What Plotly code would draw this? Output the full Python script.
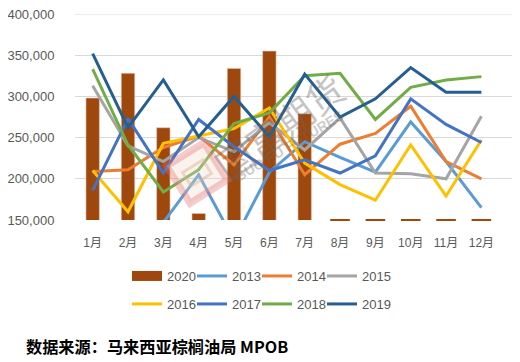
import math
import plotly.graph_objects as go

months = ["1月", "2月", "3月", "4月", "5月", "6月", "7月", "8月", "9月", "10月", "11月", "12月"]

v2020 = [298000, 328000, 262000, 158000, 334000, 355000, 279000, 0, 0, 0, 0, 0]
v2013 = [130000, 120000, 147000, 205000, 125000, 208000, 245000, 226000, 208000, 269000, 221000, 165000]
v2014 = [209000, 211000, 238000, 252000, 217000, 275000, 205000, 242000, 255000, 288000, 221000, 200000]
v2015 = [313000, 240000, 221000, 250000, 233000, 268000, 235000, 274000, 207000, 206000, 200000, 276000]
v2016 = [210000, 160000, 243000, 252000, 261000, 286000, 219000, 193000, 174000, 241000, 179000, 247000]
v2017 = [186000, 273000, 207000, 272000, 239000, 210000, 223000, 207000, 228000, 297000, 266000, 244000]
v2018 = [333000, 241000, 184000, 211000, 267000, 280000, 325000, 328000, 272000, 311000, 320000, 324000]
v2019 = [352000, 262000, 320000, 251000, 300000, 251000, 327000, 275000, 297000, 335000, 305000, 305000]

y_ticks = [150000, 200000, 250000, 300000, 350000, 400000]
y_min, y_max = 150000, 400000

line_series = [
    ("2013", v2013, "#5B9BD5", "legend"),
    ("2014", v2014, "#ED7D31", "legend"),
    ("2015", v2015, "#A5A5A5", "legend"),
    ("2016", v2016, "#FFC000", "legend2"),
    ("2017", v2017, "#4472C4", "legend2"),
    ("2018", v2018, "#70AD47", "legend2"),
    ("2019", v2019, "#255E91", "legend2"),
]
bar_color = "#9E480E"
grid_color = "#D9D9D9"
font_main = "Liberation Sans, Arial, Noto Sans CJK SC"
txt_color = "#595959"

# the page body has an 8px margin, so the figure is drawn 8px in from the window edge
OFF = 8
W, H = 520 - OFF, 362 - OFF
M_L, M_R, M_T, M_B = 75 - OFF, 520 - 512, 14 - OFF, 362 - 220
plot_w = W - M_L - M_R
plot_h = H - M_T - M_B


def px_x(x):
    # window pixel -> paper x
    return (x - OFF - M_L) / plot_w


def px_y(y):
    # window pixel -> paper y
    return (H - M_B - (y - OFF)) / plot_h


def rot_rect_path(cx, cy, w, h, ang_deg):
    a = math.radians(ang_deg)
    pts = []
    for dx, dy in [(-w / 2, -h / 2), (w / 2, -h / 2), (w / 2, h / 2), (-w / 2, h / 2)]:
        x = cx + dx * math.cos(a) - dy * math.sin(a)
        y = cy + dx * math.sin(a) + dy * math.cos(a)
        pts.append((px_x(x), px_y(y)))
    return "M " + " L ".join(f"{x:.4f},{y:.4f}" for x, y in pts) + " Z"


fig = go.Figure()

fig.add_trace(go.Bar(
    x=months, y=v2020, name="2020", marker=dict(color=bar_color, line=dict(color="#E8C8B8", width=0.6)),
    width=0.38, showlegend=False,
))
# bars whose value is below the axis minimum show as a sliver at the axis
low_x = [m for m, v in zip(months, v2020) if v < y_min]
fig.add_trace(go.Scatter(
    x=low_x, y=[y_min] * len(low_x), mode="markers", showlegend=False, hoverinfo="skip",
    marker=dict(symbol="line-ew", size=14, line=dict(color=bar_color, width=2)), cliponaxis=False,
))
# legend entry for 2020 (wide swatch)
fig.add_trace(go.Scatter(
    x=[None], y=[None], mode="lines", name="2020", legend="legend",
    line=dict(color=bar_color, width=12),
))
for name, vals, color, lg in line_series:
    fig.add_trace(go.Scatter(
        x=months, y=vals, mode="lines", name=name, legend=lg,
        line=dict(color=color, width=3),
    ))
# blank spacer entries so the last legend label is not clipped
for lg in ("legend", "legend2"):
    fig.add_trace(go.Scatter(x=[None], y=[None], mode="lines", name=" ", legend=lg,
                             line=dict(color="rgba(0,0,0,0)", width=0), hoverinfo="skip"))

# top gridline sits on the plot edge, draw it explicitly
fig.add_shape(type="line", xref="paper", x0=0, x1=1, yref="y", y0=y_ticks[-1], y1=y_ticks[-1],
              line=dict(color=grid_color, width=1), layer="below")

# watermark logo
fig.add_shape(type="path", path=rot_rect_path(197, 173, 44, 44, -32), xref="paper", yref="paper",
              line=dict(color="rgba(225,110,110,0.35)", width=7), fillcolor="rgba(240,215,195,0.30)",
              layer="above")
fig.add_shape(type="path", path=rot_rect_path(197, 173, 24, 16, -32), xref="paper", yref="paper",
              line=dict(color="rgba(215,180,150,0.45)", width=3), fillcolor="rgba(0,0,0,0)",
              layer="above")
fig.add_annotation(text="国富期货", x=px_x(279), y=px_y(126), xref="paper", yref="paper", showarrow=False,
                   textangle=-36, font=dict(size=37, color="rgba(100,100,100,0.38)", family="Noto Sans CJK SC"))
fig.add_annotation(text="<b>GUO FU FUTURES</b>", x=px_x(289), y=px_y(146), xref="paper", yref="paper",
                   showarrow=False, textangle=-31,
                   font=dict(size=14, color="rgba(105,105,105,0.35)", family="Liberation Sans"))

fig.add_annotation(text="<b>数据来源：马来西亚棕榈油局 MPOB</b>", x=px_x(157), y=px_y(346), xref="paper", yref="paper",
                   showarrow=False, xanchor="center", yanchor="middle",
                   font=dict(size=16.2, color="#000000", family="Noto Sans CJK SC"))

fig.update_layout(
    width=W, height=H,
    margin=dict(l=M_L, r=M_R, t=M_T, b=M_B, autoexpand=False),
    paper_bgcolor="white", plot_bgcolor="white",
    font=dict(family=font_main, size=13, color=txt_color),
    legend=dict(orientation="h", x=px_x(127), y=px_y(276), xanchor="left", yanchor="middle",
                font=dict(size=13, color=txt_color), entrywidth=20, entrywidthmode="pixels",
                traceorder="normal", itemclick=False),
    legend2=dict(orientation="h", x=px_x(127), y=px_y(304), xanchor="left", yanchor="middle",
                 font=dict(size=13, color=txt_color), entrywidth=20, entrywidthmode="pixels",
                 traceorder="normal", itemclick=False),
    showlegend=True,
)
fig.update_xaxes(showgrid=False, showline=False, ticks="outside", ticklen=12, tickcolor="rgba(0,0,0,0)",
                 tickfont=dict(size=12, color=txt_color), automargin=False)
fig.update_yaxes(range=[y_min, y_max], tickvals=y_ticks, tickformat=",", showgrid=True,
                 gridcolor=grid_color, gridwidth=1, zeroline=False, showline=False,
                 ticks="outside", ticklen=17, tickcolor="rgba(0,0,0,0)", ticklabeloverflow="allow",
                 tickfont=dict(size=13, color=txt_color), automargin=False)

fig.write_html("out.html")
